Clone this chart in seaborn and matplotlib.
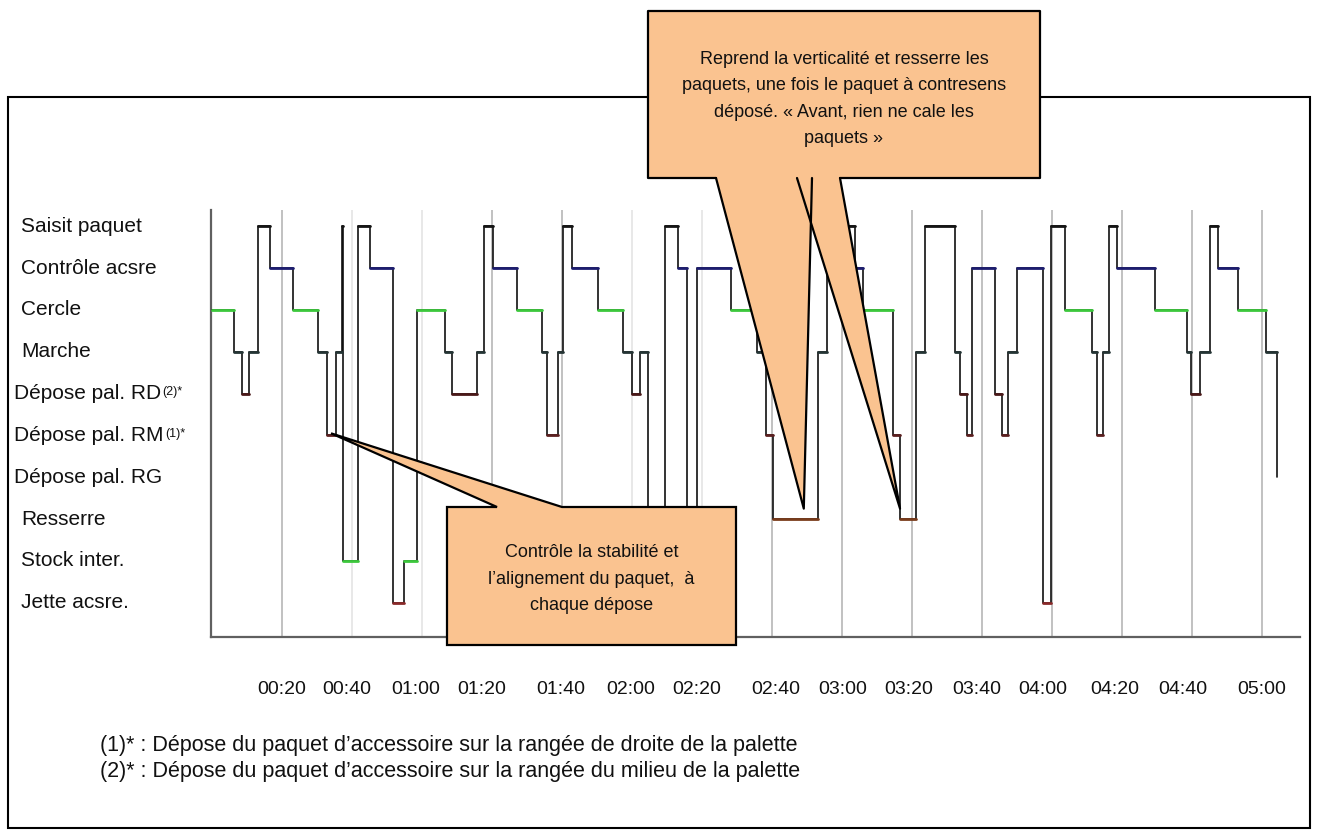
import numpy as np
import pandas as pd
import seaborn as sns
import matplotlib.pyplot as plt
import matplotlib.transforms as mtransforms
from matplotlib.patches import Polygon, Rectangle
from matplotlib.lines import Line2D

# activity levels, top to bottom of the chart
activities = ["Saisit paquet", "Contrôle acsre", "Cercle", "Marche",
              "Dépose pal. RD", "Dépose pal. RM", "Dépose pal. RG",
              "Resserre", "Stock inter.", "Jette acsre."]
activity_sup = {"Dépose pal. RD": "(2)*", "Dépose pal. RM": "(1)*"}

# time (s) at which each activity starts
t_start = [0.0, 6.4, 8.5, 10.7, 13.2, 16.6, 23.2, 30.4, 32.8, 35.3,
           37.1, 37.5, 41.7, 45.1, 51.8, 54.9, 58.6, 66.6, 68.5, 75.6,
           77.8, 80.4, 87.2, 94.2, 95.6, 98.8, 100.4, 102.9, 110.4, 117.5,
           120.0, 122.3, 124.6, 129.4, 133.1, 135.6, 138.6, 148.3, 155.7, 158.3,
           160.3, 173.2, 175.6, 183.7, 186.1, 194.6, 196.6, 201.3, 203.7, 212.3,
           213.7, 215.6, 217.1, 223.7, 225.6, 227.5, 229.9, 237.5, 239.7, 243.7,
           251.4, 252.8, 254.7, 256.3, 258.5, 269.4, 278.5, 279.7, 282.3, 285.1,
           287.5, 293.2, 301.3, 304.3]
activity_seq = ["Cercle", "Marche", "Dépose pal. RD", "Marche", "Saisit paquet",
                "Contrôle acsre", "Cercle", "Marche", "Dépose pal. RM", "Marche",
                "Saisit paquet", "Stock inter.", "Saisit paquet", "Contrôle acsre", "Jette acsre.",
                "Stock inter.", "Cercle", "Marche", "Dépose pal. RD", "Marche",
                "Saisit paquet", "Contrôle acsre", "Cercle", "Marche", "Dépose pal. RM",
                "Marche", "Saisit paquet", "Contrôle acsre", "Cercle", "Marche",
                "Dépose pal. RD", "Marche", "Resserre", "Saisit paquet", "Contrôle acsre",
                "Resserre", "Contrôle acsre", "Cercle", "Marche", "Dépose pal. RM",
                "Resserre", "Marche", "Saisit paquet", "Contrôle acsre", "Cercle",
                "Dépose pal. RM", "Resserre", "Marche", "Saisit paquet", "Marche",
                "Dépose pal. RD", "Dépose pal. RM", "Contrôle acsre", "Dépose pal. RD", "Dépose pal. RM",
                "Marche", "Contrôle acsre", "Jette acsre.", "Saisit paquet", "Cercle",
                "Marche", "Dépose pal. RM", "Marche", "Saisit paquet", "Contrôle acsre",
                "Cercle", "Marche", "Dépose pal. RD", "Marche", "Saisit paquet",
                "Contrôle acsre", "Cercle", "Marche", "Dépose pal. RG"]

tick_pos = [20.0, 38.5, 58.1, 77.0, 99.6, 119.6, 138.5, 161.1, 180.3, 199.0,
            218.5, 237.4, 258.0, 277.5, 300.0]
tick_labels = ["00:20", "00:40", "01:00", "01:20", "01:40", "02:00", "02:20", "02:40",
               "03:00", "03:20", "03:40", "04:00", "04:20", "04:40", "05:00"]

footnotes = ["(1)* : Dépose du paquet d’accessoire sur la rangée de droite de la palette",
             "(2)* : Dépose du paquet d’accessoire sur la rangée du milieu de la palette"]
note_1 = "Contrôle la stabilité et\nl’alignement du paquet,  à\nchaque dépose"
note_2 = ("Reprend la verticalité et resserre les\npaquets, une fois le paquet à contresens\n"
          "déposé. « Avant, rien ne cale les\npaquets »")

colors = {"Saisit paquet": "#151515", "Contrôle acsre": "#1d1d70", "Cercle": "#3cc83c",
          "Marche": "#253535", "Dépose pal. RD": "#4a1818", "Dépose pal. RM": "#5c2020",
          "Dépose pal. RG": "#4a1818", "Resserre": "#7a3c1c", "Stock inter.": "#3cc83c",
          "Jette acsre.": "#8a2a2a"}

level = {a: len(activities) - i for i, a in enumerate(activities)}

sns.set_theme(style="white")
plt.rcParams["font.family"] = ["Liberation Sans", "DejaVu Sans"]

W, H = 1317, 836
fig = plt.figure(figsize=(W / 100, H / 100), dpi=100)
ax = fig.add_axes([211 / W, 1 - 637 / H, (1300 - 211) / W, (637 - 210) / H])
ax.patch.set_alpha(0)
# picture-pixel coordinates for the drawn frame and callouts
px = mtransforms.Affine2D().scale(1 / W, -1 / H).translate(0, 1) + fig.transFigure

# step trace
lv = [level[a] for a in activity_seq]
trace = pd.DataFrame({"t": t_start + [t_start[-1]], "level": lv + [lv[-1]]})
sns.lineplot(data=trace, x="t", y="level", drawstyle="steps-post", estimator=None,
             sort=False, color="#111111", lw=1.2, ax=ax, zorder=3)

# coloured horizontal parts
rows = []
for i, a in enumerate(activity_seq[:-1]):
    rows.append((i, a, t_start[i], level[a]))
    rows.append((i, a, t_start[i + 1], level[a]))
seg = pd.DataFrame(rows, columns=["seg", "activity", "t", "level"])
sns.lineplot(data=seg, x="t", y="level", hue="activity", units="seg", estimator=None,
             palette=colors, lw=2.0, legend=False, ax=ax, zorder=4)

# vertical gridlines every 20 s
for g in range(20, 301, 20):
    c = "#e6e6e6" if g in (40, 60, 120, 140) else "#bcbcbc"
    ax.axvline(g, color=c, lw=1.3, zorder=1)

ax.set_xlim(-0.3, 310.9)
ax.set_ylim(0.18, 10.39)
ax.set_xticks(tick_pos)
ax.set_xticklabels(tick_labels, fontsize=14, color="#111111")
ax.tick_params(axis="x", length=0, pad=32)
ax.set_yticks([])
ax.set_xlabel("")
ax.set_ylabel("")
for s in ["top", "right"]:
    ax.spines[s].set_visible(False)
for s in ["left", "bottom"]:
    ax.spines[s].set_color("#606060")
    ax.spines[s].set_linewidth(1.6)

# activity labels at the left
lab_tr = mtransforms.blended_transform_factory(fig.transFigure, ax.transData)
renderer = fig.canvas.get_renderer()
for a in activities:
    x0 = 14 if a.startswith("Dépose") else 21
    t = ax.text(x0 / W, level[a], a, transform=lab_tr, fontsize=15, ha="left",
                va="center", color="#111111")
    if a in activity_sup:
        bb = t.get_window_extent(renderer)
        fig.text(bb.x1 / W + 0.001, (bb.y1 - 8) / H, activity_sup[a], fontsize=9,
                 ha="left", va="center", color="#111111")

# outer frame
fig.add_artist(Rectangle((8, 97), 1302, 731, transform=px, fill=False,
                         ec="black", lw=1.5, zorder=1))

# footnotes
for i, f in enumerate(footnotes):
    fig.text(100 / W, 1 - (746 + 26 * i) / H, f, fontsize=15.5, va="center", color="#111111")

fill = "#fac390"
# callout 1
tip1 = px.inverted().transform(ax.transData.transform((34.0, 5.05)))
poly1 = [(562, 507), (736, 507), (736, 645), (447, 645), (447, 507), (497, 507), tuple(tip1)]
fig.add_artist(Polygon(poly1, closed=True, transform=px, fc=fill, ec="black", lw=1.6, zorder=6))
fig.text(591.5 / W, 1 - 579 / H, note_1, fontsize=13, ha="center", va="center",
         linespacing=1.7, zorder=7, color="#111111")

# callout 2 with two tails
bx0, bx1, by0, by1 = 648, 1040, 11, 178
tipA = px.inverted().transform(ax.transData.transform((169.1, 3.25)))
tipB = px.inverted().transform(ax.transData.transform((196.6, 3.25)))
tails = [[(716, by1), tuple(tipA), (812, by1)], [(797, by1), tuple(tipB), (840, by1)]]
fig.add_artist(Rectangle((bx0, by0), bx1 - bx0, by1 - by0, transform=px, fc=fill,
                         ec="none", zorder=6))
for tl in tails:
    fig.add_artist(Polygon(tl, closed=True, transform=px, fc=fill, ec="none", zorder=6))
for tl in tails:
    xs, ys = zip(*tl)
    fig.add_artist(Line2D(xs, ys, transform=px, color="black", lw=1.6, zorder=7))
outline = [(716, by1), (bx0, by1), (bx0, by0), (bx1, by0), (bx1, by1), (840, by1)]
xs, ys = zip(*outline)
fig.add_artist(Line2D(xs, ys, transform=px, color="black", lw=1.6, zorder=7))
fig.text(844 / W, 1 - 99 / H, note_2, fontsize=13, ha="center", va="center",
         linespacing=1.7, zorder=8, color="#111111")

fig.savefig("out.png", dpi=100, facecolor="white")
